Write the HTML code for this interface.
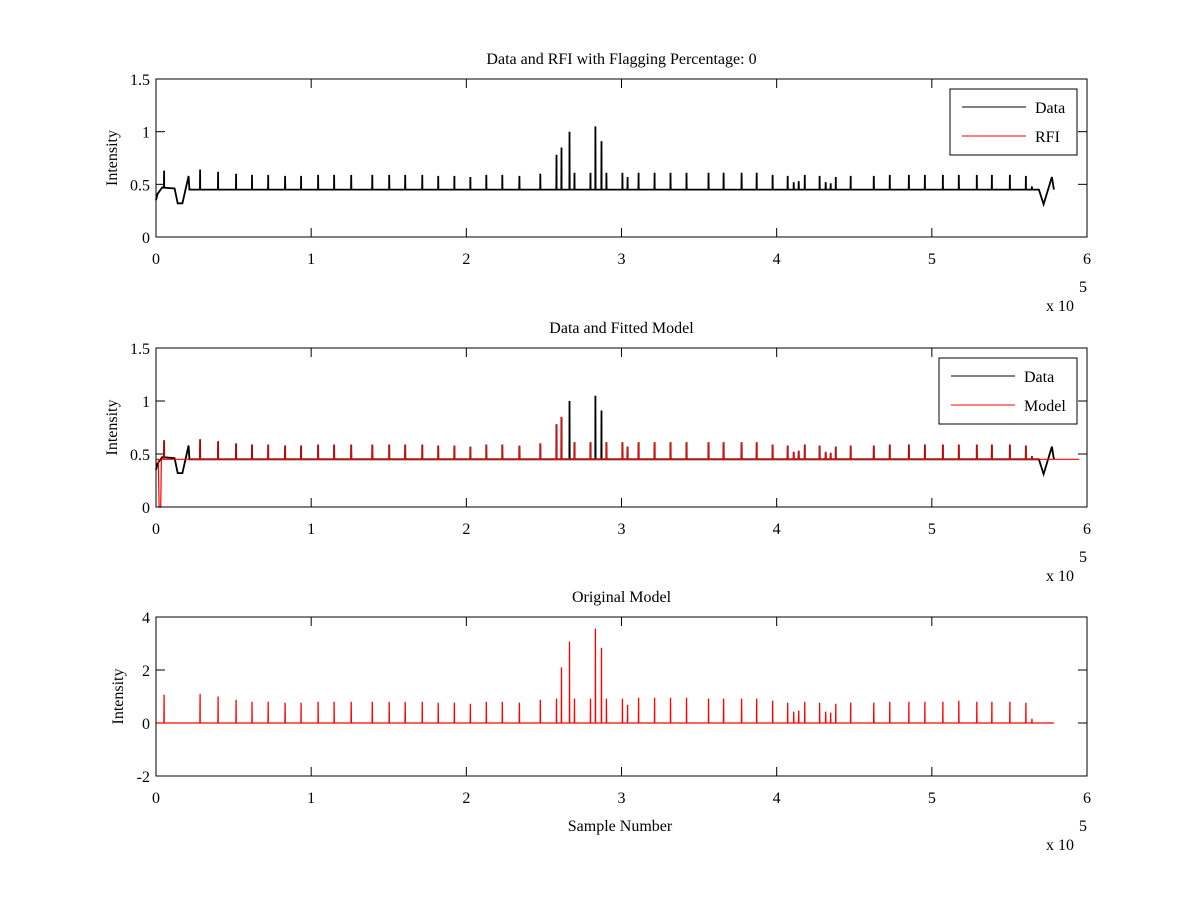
<!DOCTYPE html>
<html><head><meta charset="utf-8"><style>
body{margin:0;background:#fff}
svg text{font-family:"Liberation Serif",serif;font-size:16px;fill:#000}
</style></head><body>
<svg id="fig" width="1200" height="900" viewBox="0 0 1200 900" xmlns="http://www.w3.org/2000/svg"></svg>
<script>
const xTicks=[0,1,2,3,4,5,6];
const yTicks1=[0,0.5,1,1.5];
const yTicks2=[0,0.5,1,1.5];
const yTicks3=[-2,0,2,4];
const spikePos=[0.052,0.284,0.400,0.516,0.619,0.723,0.832,0.935,1.045,1.148,1.258,1.394,1.503,1.606,1.716,1.819,1.923,2.026,2.129,2.232,2.342,2.477,2.581,2.613,2.665,2.697,2.800,2.832,2.871,2.903,3.006,3.039,3.110,3.213,3.316,3.419,3.561,3.658,3.774,3.871,3.974,4.071,4.110,4.142,4.181,4.277,4.316,4.348,4.381,4.477,4.626,4.729,4.852,4.955,5.071,5.174,5.290,5.387,5.503,5.606,5.645];
const modelHeights=[1.07,1.1,1.0,0.88,0.8,0.8,0.77,0.77,0.8,0.8,0.8,0.8,0.8,0.8,0.8,0.77,0.77,0.73,0.8,0.8,0.77,0.88,0.92,2.1,3.07,0.92,0.92,3.56,2.84,0.92,0.92,0.69,0.95,0.95,0.95,0.95,0.92,0.92,0.92,0.92,0.84,0.77,0.43,0.47,0.8,0.77,0.43,0.39,0.73,0.77,0.77,0.8,0.8,0.8,0.8,0.84,0.8,0.8,0.8,0.77,0.16];
const dataHeights=[0.63,0.64,0.62,0.6,0.59,0.59,0.58,0.58,0.59,0.59,0.59,0.59,0.59,0.59,0.59,0.58,0.58,0.57,0.59,0.59,0.58,0.6,0.78,0.85,1.0,0.61,0.61,1.05,0.91,0.61,0.61,0.57,0.61,0.61,0.61,0.61,0.61,0.61,0.61,0.61,0.59,0.58,0.52,0.53,0.59,0.58,0.52,0.51,0.57,0.58,0.58,0.59,0.59,0.59,0.59,0.59,0.59,0.59,0.59,0.58,0.48];
const fitHeights=[0.63,0.64,0.62,0.6,0.59,0.59,0.58,0.58,0.59,0.59,0.59,0.59,0.59,0.59,0.59,0.58,0.58,0.57,0.59,0.59,0.58,0.6,0.78,0.85,0.46,0.61,0.61,0.46,0.46,0.61,0.61,0.57,0.61,0.61,0.61,0.61,0.61,0.61,0.61,0.61,0.59,0.58,0.52,0.53,0.59,0.58,0.52,0.51,0.57,0.58,0.58,0.59,0.59,0.59,0.59,0.59,0.59,0.59,0.59,0.58,0.48];
const baseX=[0,0.01,0.04,0.12,0.14,0.17,0.21,0.215,5.69,5.72,5.774,5.787];
const baseY=[0.35,0.41,0.47,0.46,0.32,0.32,0.58,0.45,0.45,0.31,0.57,0.45];
const fitBaseX=[0,0.015,0.02,0.03,0.035,0.05,5.95];
const fitBaseY=[0.45,0.45,0.0,0.0,0.45,0.45,0.45];
const modelBaseLevel=0, modelEnd=5.787;

const NS='http://www.w3.org/2000/svg';
const svg=document.getElementById('fig');
function mk(tag,attrs,parent){const e=document.createElementNS(NS,tag);for(const k in attrs)e.setAttribute(k,attrs[k]);(parent||svg).appendChild(e);return e;}
const L=156,R=1087;
function sx(v){return L+(v/6)*(R-L);}
function makeAxes(top,bot,ymin,ymax,yt,title,name){
  const sy=v=>bot-(v-ymin)/(ymax-ymin)*(bot-top);
  const g=mk('g',{});
  
  
  const t=mk('text',{x:(L+R)/2,y:top-15,'text-anchor':'middle'},g);t.textContent=title;
  
  
  xTicks.forEach(v=>{const x=sx(v);
    mk('line',{x1:x,x2:x,y1:bot,y2:bot-9,stroke:'#000'},g);
    mk('line',{x1:x,x2:x,y1:top,y2:top+9,stroke:'#000'},g);
    const tx=mk('text',{x:x,y:bot+27,'text-anchor':'middle'},g);tx.textContent=v;
    
    });
  yt.forEach(v=>{const y=sy(v);
    mk('line',{x1:L,x2:L+9,y1:y,y2:y,stroke:'#000'},g);
    mk('line',{x1:R,x2:R-9,y1:y,y2:y,stroke:'#000'},g);
    const ty=mk('text',{x:L-6,y:y+6,'text-anchor':'end'},g);ty.textContent=v;
    
    });
  const yl=mk('text',{x:0,y:0,'text-anchor':'middle',transform:`translate(${top>600?123:117},${(top+bot)/2}) rotate(-90)`},g);yl.textContent='Intensity';
  
  
  const ex=mk('text',{x:1046,y:bot+74},g);ex.textContent='x 10';
  
  
  const e5=mk('text',{x:1079,y:bot+55,'font-size':'12'},g);e5.textContent='5';
  return {g,sy,top,bot};
}
function series(ax,bx,by,sp,sh,color,sw,end,name){
  let pts=[];
  bx.forEach((x,i)=>pts.push([x,by[i]]));
  // insert spikes
  const base=x=>{for(let i=1;i<bx.length;i++){if(x<=bx[i]){const f=(x-bx[i-1])/(bx[i]-bx[i-1]);return by[i-1]+f*(by[i]-by[i-1]);}}return by[by.length-1];};
  sp.forEach((x,i)=>{const b=base(x);pts.push([x-0.001,b],[x,sh[i]],[x+0.001,b]);});
  pts.sort((a,b)=>a[0]-b[0]);
  const d='M'+pts.map(p=>sx(p[0]).toFixed(1)+','+ax.sy(p[1]).toFixed(1)).join('L');
  const p=mk('path',{d:d,fill:'none',stroke:color,'stroke-width':sw},ax.g);
  
  
}
function frame(ax){mk('rect',{x:L,y:ax.top,width:R-L,height:ax.bot-ax.top,fill:'none',stroke:'#000'},ax.g);}
function legend(ax,x,y,w,labels,name){
  const g=mk('g',{},ax.g);
  
  
  mk('rect',{x:x,y:y,width:w,height:66,fill:'#fff',stroke:'#000'},g);
  labels.forEach((l,i)=>{const yy=y+18+i*29;
    mk('line',{x1:x+12,x2:x+76,y1:yy,y2:yy,stroke:l[1]},g);
    const t=mk('text',{x:x+85,y:yy+6},g);t.textContent=l[0];
    
    });
}
const a1=makeAxes(79,237,0,1.5,yTicks1,'Data and RFI with Flagging Percentage: 0','subplot-data-rfi');
series(a1,baseX,baseY,spikePos,dataHeights,'#000',1.8,0,'data-line');
frame(a1);legend(a1,950,89,127,[['Data','#000'],['RFI','#f00']],'legend-1');
const a2=makeAxes(348,507,0,1.5,yTicks2,'Data and Fitted Model','subplot-fitted');
series(a2,baseX,baseY,spikePos,dataHeights,'#000',1.8,0,'data-line-2');
series(a2,fitBaseX,fitBaseY,spikePos,fitHeights,'#f00',1.2,0,'model-line');
frame(a2);legend(a2,939,358,138,[['Data','#000'],['Model','#f00']],'legend-2');
const a3=makeAxes(617,776,-2,4,yTicks3,'Original Model','subplot-original-model');
series(a3,[0,modelEnd],[modelBaseLevel,modelBaseLevel],spikePos,modelHeights,'#f00',1.3,0,'original-model-line');
frame(a3);
const xl=mk('text',{x:620,y:831,'text-anchor':'middle'});xl.textContent='Sample Number';


</script>
</body></html>
